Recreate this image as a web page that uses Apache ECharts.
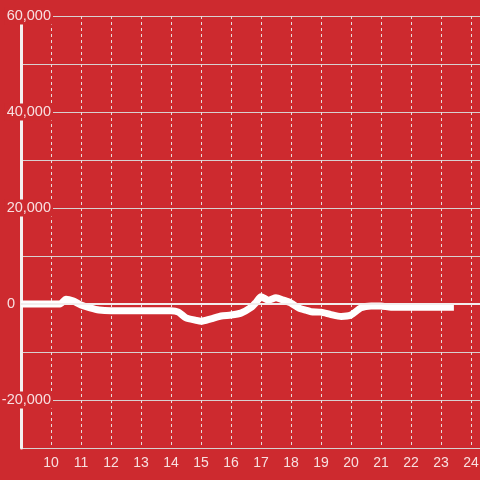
<!DOCTYPE html>
<html>
<head>
<meta charset="utf-8">
<script src="https://cdn.jsdelivr.net/npm/echarts@6/dist/echarts.min.js"></script>
<style>
html,body{margin:0;padding:0;background:#cd2a2f;}
#chart{width:480px;height:480px;}
</style>
</head>
<body>
<div id="chart"></div>
<script>
var xValues = [9.0, 9.5, 10.0, 10.3, 10.5, 10.75, 11.0, 11.3, 11.6, 12.0, 12.5, 13.0, 13.5, 14.0, 14.25, 14.5, 14.83, 15.0, 15.33, 15.67, 16.0, 16.33, 16.67, 16.83, 17.0, 17.25, 17.5, 17.75, 18.0, 18.25, 18.5, 18.67, 19.0, 19.33, 19.67, 20.0, 20.33, 20.67, 21.0, 21.33, 22.0, 22.5, 23.0, 23.43];
var yValues = [0, 0, 0, 0, 1000, 600, -200, -800, -1250, -1400, -1400, -1400, -1400, -1400, -1700, -2900, -3400, -3600, -3100, -2500, -2300, -1900, -700, 300, 1500, 800, 1300, 800, 200, -800, -1300, -1600, -1700, -2200, -2600, -2300, -800, -400, -400, -700, -700, -700, -700, -700];
var xTicks = [10, 11, 12, 13, 14, 15, 16, 17, 18, 19, 20, 21, 22, 23, 24];
var yTickLabels = [-20000, 0, 20000, 40000, 60000];

var bg = '#cd2a2f';
var labelColor = 'rgba(255,255,255,0.85)';
var fontFam = 'Liberation Sans, Arial, sans-serif';
var pts = xValues.map(function (x, i) { return [x, yValues[i]]; });
var chart = echarts.init(document.getElementById('chart'));
chart.setOption({
  backgroundColor: bg,
  animation: false,
  grid: { left: 21, right: 0, top: 16, bottom: 32, containLabel: false, outerBoundsMode: 'none' },
  xAxis: {
    type: 'value', min: 9, max: 24.3, interval: 1,
    axisLine: { show: false }, axisTick: { show: false },
    splitLine: { show: true, lineStyle: { color: '#e6dcdc', type: [3, 3], width: 1 } },
    axisLabel: {
      color: labelColor, fontSize: 14, fontFamily: fontFam, margin: 8,
      showMinLabel: false,
      formatter: function (v) { return xTicks.indexOf(v) >= 0 ? String(v) : ''; }
    }
  },
  yAxis: {
    type: 'value', min: -30000, max: 60000, interval: 10000,
    axisLine: { show: true, lineStyle: { color: '#f4f0f0', width: 3 } },
    axisTick: { show: false },
    splitLine: { show: true, lineStyle: { color: '#d8d0d0', width: 1 } },
    axisLabel: {
      color: labelColor, fontSize: 14.5, fontFamily: fontFam,
      align: 'right', margin: -32,
      formatter: function (v) {
        if (yTickLabels.indexOf(v) < 0) return '';
        if (v === 0) return '{z|0}';
        return '{a|' + v.toLocaleString('en-US') + '}';
      },
      rich: {
        a: { color: labelColor, fontSize: 14.5, fontFamily: fontFam, backgroundColor: bg, padding: [1, 2, 1, 2] },
        z: { color: labelColor, fontSize: 14.5, fontFamily: fontFam, padding: [1, 38, 1, 0] }
      }
    }
  },
  series: [{
    type: 'line', data: pts, symbol: 'none', z: 3, smooth: 0.2,
    lineStyle: { color: '#ffffff', width: 7, join: 'round' },
    markLine: {
      silent: true, symbol: ['none', 'none'], label: { show: false },
      lineStyle: { color: '#f2eeee', width: 2, type: 'solid' },
      data: [{ yAxis: 0 }]
    }
  }]
});
</script>
</body>
</html>
